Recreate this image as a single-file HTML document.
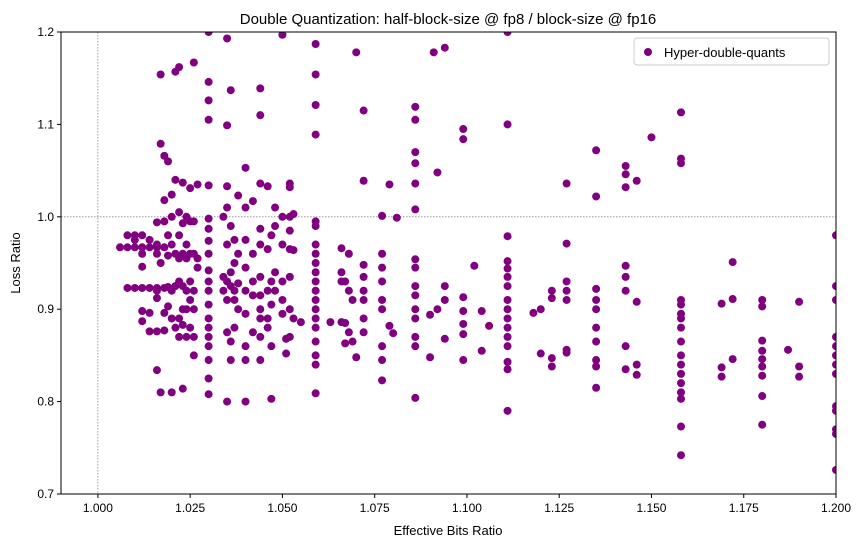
<!DOCTYPE html>
<html><head><meta charset="utf-8"><style>
body{margin:0;background:#fff;}
svg text{font-family:"Liberation Sans","DejaVu Sans",sans-serif;}
</style></head><body>
<svg id="chart" width="866" height="547" xmlns="http://www.w3.org/2000/svg">
<rect width="866" height="547" fill="#fff"/>
<text x="448" y="24" text-anchor="middle" font-size="15" fill="#000">Double Quantization: half-block-size @ fp8 / block-size @ fp16</text>
<g id="grid"></g>
<g id="marks"></g>
<rect x="61" y="32" width="775" height="462" fill="none" stroke="#000" stroke-width="1"/>
<g id="xticks"></g>
<g id="yticks"></g>
<text x="448" y="535" text-anchor="middle" font-size="13">Effective Bits Ratio</text>
<text x="0" y="0" transform="translate(20,263) rotate(-90)" text-anchor="middle" font-size="13">Loss Ratio</text>
<g>
<rect x="634" y="38" width="195" height="27" rx="3" fill="#fff" stroke="#ccc"/>
<circle cx="648" cy="52" r="4" fill="#800080"/>
<text x="664" y="57" font-size="13">Hyper-double-quants</text>
</g>
</svg>
<script>
const xTickValues=[1.000,1.025,1.050,1.075,1.100,1.125,1.150,1.175,1.200];
const xTickLabels=["1.000","1.025","1.050","1.075","1.100","1.125","1.150","1.175","1.200"];
const yTickValues=[0.7,0.8,0.9,1.0,1.1,1.2];
const yTickLabels=["0.7","0.8","0.9","1.0","1.1","1.2"];
const colX=[1.006,1.008,1.010,1.012,1.014,1.016,1.017,1.018,1.019,1.020,1.021,1.022,1.023,1.024,1.025,1.026,1.027,1.030,1.034,1.035,1.036,1.037,1.038,1.040,1.042,1.044,1.046,1.047,1.048,1.050,1.051,1.052,1.053,1.055,1.059,1.063,1.066,1.067,1.068,1.069,1.070,1.072,1.077,1.079,1.080,1.081,1.086,1.090,1.091,1.092,1.094,1.099,1.102,1.104,1.106,1.111,1.118,1.120,1.123,1.127,1.135,1.143,1.146,1.150,1.158,1.169,1.172,1.180,1.187,1.190,1.200];
const colY=[
[0.967],[0.967,0.98,0.923],[0.967,0.98,0.923,0.975],[0.967,0.98,0.96,0.946,0.923,0.898,0.887],[0.967,0.975,0.923,0.896,0.876],
[0.834,0.967,0.994,0.923,0.876,0.97,0.96,0.92,0.912],[1.154,1.079,0.81,0.95],[1.066,1.018,0.995,0.967,0.923,0.896,0.877],[1.06,0.98,0.958,0.903,0.924],
[1.024,1.0,0.97,0.92,0.81,0.89],[1.157,1.04,0.96,0.88,0.925],[1.162,1.005,0.98,0.93,0.87,0.955,0.89],[1.037,0.993,0.96,0.925,0.883,0.814,0.9],
[1.0,0.955,0.92,0.9,0.87,0.97],[1.031,0.995,0.96,0.93,0.91,0.88],[1.167,0.995,0.96,0.92,0.85,0.9,0.87],[1.035,0.955,0.945],
[1.2,1.146,1.126,1.105,1.034,0.998,0.987,0.974,0.96,0.942,0.93,0.92,0.905,0.89,0.88,0.87,0.86,0.845,0.825,0.808],
[1.0,0.92,0.935],[1.193,1.099,1.033,1.01,0.97,0.93,0.91,0.875,0.8],[1.137,0.99,0.94,0.925,0.865,0.845],[0.975,0.95,0.92,0.88,0.91],
[1.023,0.96,0.928,0.9],[1.053,1.01,0.975,0.945,0.92,0.895,0.86,0.8,0.845],[1.017,0.96,0.93,0.915,0.875],
[1.139,1.11,1.036,0.987,0.97,0.935,0.915,0.9,0.89,0.87,0.845],[1.033,0.965,0.92,0.89,0.88],[0.98,0.93,0.86,0.803,0.905],
[1.01,0.99,0.94,0.92],[1.197,1.0,0.97,0.93,0.91,0.895],[0.852,0.868],[1.036,1.032,1.0,0.985,0.965,0.935,0.9,0.87],[1.003,0.964,0.89],[0.886],
[1.187,1.154,1.121,1.089,0.995,0.99,0.97,0.96,0.95,0.94,0.93,0.92,0.91,0.9,0.89,0.88,0.865,0.85,0.84,0.809],
[0.886],[0.94,0.886,0.966,0.93],[0.93,0.885,0.863],[0.92,0.96,0.875],[0.91,0.865],[1.178,0.848],
[1.115,1.039,0.948,0.935,0.92,0.91,0.89,0.875],[1.001,0.96,0.945,0.93,0.91,0.9,0.86,0.845,0.823],[1.035,0.882],[0.874],[0.999],
[1.119,1.105,1.07,1.058,1.036,1.008,0.954,0.945,0.925,0.915,0.9,0.89,0.87,0.86,0.804],[0.848,0.894],[1.178],[1.048,0.9],
[1.183,0.925,0.91,0.868],[1.095,1.084,0.913,0.898,0.884,0.873,0.845],[0.947],[0.898,0.855],[0.882],
[1.2,1.1,0.979,0.952,0.944,0.935,0.925,0.91,0.9,0.89,0.88,0.87,0.86,0.843,0.835,0.79],
[0.896],[0.852,0.9],[0.92,0.912,0.847,0.838],[1.036,0.971,0.93,0.92,0.91,0.856,0.853],
[1.072,1.022,0.922,0.91,0.9,0.88,0.865,0.845,0.838,0.815],[1.055,1.046,1.032,0.947,0.935,0.92,0.86,0.835],[1.039,0.908,0.84,0.829],[1.086],
[1.113,1.063,1.058,0.91,0.905,0.895,0.89,0.88,0.865,0.85,0.84,0.83,0.82,0.81,0.803,0.773,0.742],
[0.906,0.837,0.827],[0.911,0.951,0.846],[0.91,0.903,0.866,0.855,0.846,0.838,0.828,0.806,0.775],[0.856],[0.908,0.838,0.827],
[0.98,0.925,0.91,0.87,0.86,0.85,0.84,0.83,0.795,0.79,0.77,0.765,0.726]
];
const NS="http://www.w3.org/2000/svg";
const L=61,R=836,T=32,B=494,X0=0.99,X1=1.2,Y0=0.7,Y1=1.2;
function sx(v){return L+(v-X0)/(X1-X0)*(R-L);}
function sy(v){return B-(v-Y0)/(Y1-Y0)*(B-T);}
function mk(tag,attrs,parent){const e=document.createElementNS(NS,tag);for(const k in attrs)e.setAttribute(k,attrs[k]);parent.appendChild(e);return e;}
const grid=document.getElementById('grid');
const cp=mk('clipPath',{id:'clip'},document.getElementById('chart'));
mk('rect',{x:L,y:T,width:R-L,height:B-T},cp);
const vl=mk('line',{x1:sx(1.0),x2:sx(1.0),y1:T,y2:B,stroke:'#888','stroke-width':0.8,'stroke-dasharray':'1.5,1.5'},grid);


const hl=mk('line',{x1:L,x2:R,y1:sy(1.0),y2:sy(1.0),stroke:'#888','stroke-width':0.8,'stroke-dasharray':'1.5,1.5'},grid);


const marks=document.getElementById('marks');
marks.setAttribute('clip-path','url(#clip)');
colX.forEach((x,i)=>{colY[i].forEach(y=>{
 const c=mk('circle',{cx:sx(x),cy:sy(y),r:4,fill:'#800080'},marks);
 
 
});});
const xt=document.getElementById('xticks');
xTickValues.forEach((v,i)=>{
 const x=sx(v);
 const t=mk('line',{x1:x,x2:x,y1:B,y2:B+4,stroke:'#000'},xt);
 
 
 const tx=mk('text',{x:x,y:B+18,'text-anchor':'middle','font-size':12},xt);
 tx.textContent=xTickLabels[i];
 
 
});
const yt=document.getElementById('yticks');
yTickValues.forEach((v,i)=>{
 const y=sy(v);
 const t=mk('line',{x1:L-4,x2:L,y1:y,y2:y,stroke:'#000'},yt);
 
 
 const tx=mk('text',{x:L-7,y:y+4,'text-anchor':'end','font-size':12},yt);
 tx.textContent=yTickLabels[i];
 
 
});
</script>
</body></html>
